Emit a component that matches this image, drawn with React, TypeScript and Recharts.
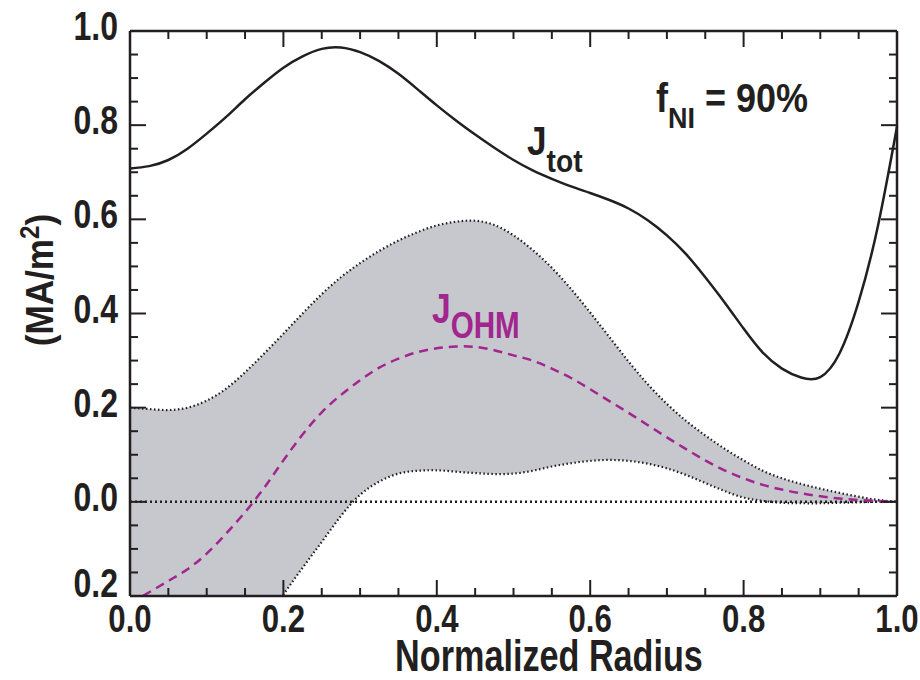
import React from 'react';
import { ComposedChart, Line, Area, XAxis, YAxis, ReferenceLine } from 'recharts';

// normalized radius grid
const radius = [
  0, 0.025, 0.05, 0.075, 0.1, 0.125, 0.15, 0.175, 0.2, 0.225,
  0.25, 0.275, 0.3, 0.325, 0.35, 0.375, 0.4, 0.425, 0.45, 0.475,
  0.5, 0.525, 0.55, 0.575, 0.6, 0.625, 0.65, 0.675, 0.7, 0.725,
  0.75, 0.775, 0.8, 0.825, 0.85, 0.875, 0.9, 0.925, 0.95, 0.975, 1.0,
];

const jTot = [
  0.708, 0.713, 0.726, 0.75, 0.782, 0.817, 0.855, 0.89, 0.922, 0.946,
  0.962, 0.965, 0.955, 0.936, 0.909, 0.876, 0.842, 0.81, 0.78, 0.752,
  0.726, 0.704, 0.686, 0.67, 0.656, 0.641, 0.623, 0.598, 0.566, 0.526,
  0.477, 0.424, 0.368, 0.317, 0.283, 0.264, 0.265, 0.315, 0.425, 0.585, 0.797,
];

const jOhm = [
  -0.215, -0.192, -0.168, -0.143, -0.11, -0.068, -0.022, 0.03, 0.088, 0.143,
  0.19, 0.227, 0.258, 0.285, 0.304, 0.318, 0.326, 0.33, 0.329, 0.322,
  0.311, 0.3, 0.283, 0.263, 0.239, 0.214, 0.189, 0.163, 0.137, 0.112,
  0.088, 0.067, 0.05, 0.036, 0.026, 0.018, 0.012, 0.007, 0.004, 0.002, 0,
];

const bandLow = [
  -0.6, -0.56, -0.52, -0.47, -0.42, -0.37, -0.31, -0.255, -0.197, -0.14,
  -0.085, -0.03, 0.015, 0.043, 0.06, 0.066, 0.067, 0.064, 0.061, 0.059,
  0.06, 0.066, 0.075, 0.082, 0.087, 0.089, 0.087, 0.081, 0.071, 0.057,
  0.04, 0.023, 0.009, 0.002, -0.002, -0.003, -0.003, -0.002, -0.001, 0, 0,
];

const bandHigh = [
  0.2, 0.197, 0.195, 0.2, 0.215, 0.24, 0.275, 0.315, 0.357, 0.4,
  0.441, 0.477, 0.507, 0.533, 0.555, 0.573, 0.587, 0.595, 0.597, 0.588,
  0.566, 0.535, 0.497, 0.452, 0.402, 0.35, 0.298, 0.25, 0.208, 0.172,
  0.141, 0.113, 0.088, 0.066, 0.05, 0.038, 0.028, 0.019, 0.011, 0.004, 0,
];

const xTicks = [
  0, 0.05, 0.1, 0.15, 0.2, 0.25, 0.3, 0.35, 0.4, 0.45, 0.5,
  0.55, 0.6, 0.65, 0.7, 0.75, 0.8, 0.85, 0.9, 0.95, 1.0,
];
const yTicks = [
  -0.2, -0.15, -0.1, -0.05, 0, 0.05, 0.1, 0.15, 0.2, 0.25, 0.3, 0.35, 0.4,
  0.45, 0.5, 0.55, 0.6, 0.65, 0.7, 0.75, 0.8, 0.85, 0.9, 0.95, 1.0,
];
const xLabels = [0, 0.2, 0.4, 0.6, 0.8, 1.0];
const yLabels = [-0.2, 0, 0.2, 0.4, 0.6, 0.8, 1.0];

const data = radius.map((r, i) => ({
  r,
  jTot: jTot[i],
  jOhm: jOhm[i],
  low: bandLow[i],
  high: bandHigh[i],
  band: [bandLow[i], bandHigh[i]],
}));

const INK = '#231f20';
const PURPLE = '#a1268e';
const BAND = '#c6c8ce';
const FONT = "'Liberation Sans', Arial, Helvetica, sans-serif";

const X_MIN = 0, X_MAX = 1, Y_MIN = -0.2, Y_MAX = 1;
const PLOT_W = 767, PLOT_H = 565;
// tick lengths, px -> data units
const xLen = (px: number) => (px / PLOT_W) * (X_MAX - X_MIN);
const yLen = (px: number) => (px / PLOT_H) * (Y_MAX - Y_MIN);

const isMajor = (v: number) => Math.abs(v * 5 - Math.round(v * 5)) < 1e-6;
const fmt = (v: number) => Math.abs(v).toFixed(1);

// condensed bold text (Helvetica Condensed look)
const NText = ({ x, y, size, sx = 0.8, anchor = 'start', fill = INK, rotate = false, children }: any) => (
  <text
    transform={`translate(${x} ${y})${rotate ? ' rotate(-90)' : ''} scale(${sx} 1)`}
    textAnchor={anchor}
    fontSize={size}
    fontFamily={FONT}
    fontWeight={700}
    fill={fill}
  >
    {children}
  </text>
);

const BottomTick = (props: any) => {
  const { x, y, payload } = props;
  return (
    <NText x={x} y={y + 36} size={39} anchor="middle">
      {fmt(payload.value)}
    </NText>
  );
};

const LeftTick = (props: any) => {
  const { x, y, payload } = props;
  const v = payload.value;
  const dy = v < -0.1 ? 1 : 9;
  return (
    <NText x={x - 12} y={y + dy} size={40} anchor="end">
      {fmt(v)}
    </NText>
  );
};

const axisLine = { stroke: INK, strokeWidth: 2.5 };
const tickStroke = { stroke: INK, strokeWidth: 2 };

export default function App() {
  return (
    <div style={{ position: 'absolute', left: 0, top: 0, width: 920, height: 680, background: '#fff' }}>
      <ComposedChart
        width={920}
        height={680}
        data={data}
        margin={{ top: 31, right: 23, bottom: 0, left: 0 }}
      >
        <XAxis
          dataKey="r"
          type="number"
          domain={[X_MIN, X_MAX]}
          ticks={xLabels}
          interval={0}
          height={84}
          tickSize={0}
          tickMargin={0}
          tickLine={false}
          axisLine={axisLine}
          tick={<BottomTick />}
        />
        <YAxis
          type="number"
          domain={[Y_MIN, Y_MAX]}
          allowDataOverflow
          ticks={yLabels}
          interval={0}
          width={130}
          tickSize={0}
          tickMargin={0}
          tickLine={false}
          axisLine={axisLine}
          tick={<LeftTick />}
        />
        <Area
          dataKey="band"
          type="natural"
          fill={BAND}
          fillOpacity={1}
          stroke="none"
          isAnimationActive={false}
        />
        <Line dataKey="low" type="natural" stroke={INK} strokeWidth={2.2} strokeDasharray="1.5 2.5" dot={false} isAnimationActive={false} />
        <Line dataKey="high" type="natural" stroke={INK} strokeWidth={2.2} strokeDasharray="1.5 2.5" dot={false} isAnimationActive={false} />
        <ReferenceLine y={0} stroke={INK} strokeWidth={2.5} strokeDasharray="2 3" />
        <Line dataKey="jOhm" type="natural" stroke={PURPLE} strokeWidth={2.5} strokeDasharray="9 6" dot={false} isAnimationActive={false} />
        <Line dataKey="jTot" type="natural" stroke={INK} strokeWidth={2.5} dot={false} isAnimationActive={false} />

        {/* frame: top and right */}
        <ReferenceLine y={Y_MAX} stroke={INK} strokeWidth={2.5} />
        <ReferenceLine x={X_MAX} stroke={INK} strokeWidth={2.5} />

        {/* inward ticks on all four sides */}
        {xTicks.map((v) => {
          const l = yLen(isMajor(v) ? 16 : 8);
          return (
            <React.Fragment key={`xt${v}`}>
              <ReferenceLine segment={[{ x: v, y: Y_MIN }, { x: v, y: Y_MIN + l }]} {...tickStroke} />
              <ReferenceLine segment={[{ x: v, y: Y_MAX }, { x: v, y: Y_MAX - l }]} {...tickStroke} />
            </React.Fragment>
          );
        })}
        {yTicks.map((v) => {
          const l = xLen(isMajor(v) ? 16 : 8);
          return (
            <React.Fragment key={`yt${v}`}>
              <ReferenceLine segment={[{ x: X_MIN, y: v }, { x: X_MIN + l, y: v }]} {...tickStroke} />
              <ReferenceLine segment={[{ x: X_MAX, y: v }, { x: X_MAX - l, y: v }]} {...tickStroke} />
            </React.Fragment>
          );
        })}
      </ComposedChart>
      <svg
        width={920}
        height={680}
        style={{ position: 'absolute', left: 0, top: 0, pointerEvents: 'none' }}
      >
        <NText x={549} y={671} size={45} sx={0.76} anchor="middle">Normalized Radius</NText>
        <NText x={53} y={280} size={39} sx={0.9} anchor="middle" rotate>
          (MA/m<tspan fontSize={27} dy={-14}>2</tspan><tspan dy={14}>)</tspan>
        </NText>
        <NText x={656} y={112} size={40} sx={0.9}>
          f<tspan fontSize={30} dy={16}>NI</tspan>
          <tspan dy={-16}> = 90%</tspan>
        </NText>
        <NText x={527} y={155} size={40} sx={0.88}>
          J<tspan fontSize={32} dy={17}>tot</tspan>
        </NText>
        <NText x={432} y={323} size={42} sx={0.8} fill={PURPLE}>
          J<tspan fontSize={37} dy={15}>OHM</tspan>
        </NText>
      </svg>
    </div>
  );
}
